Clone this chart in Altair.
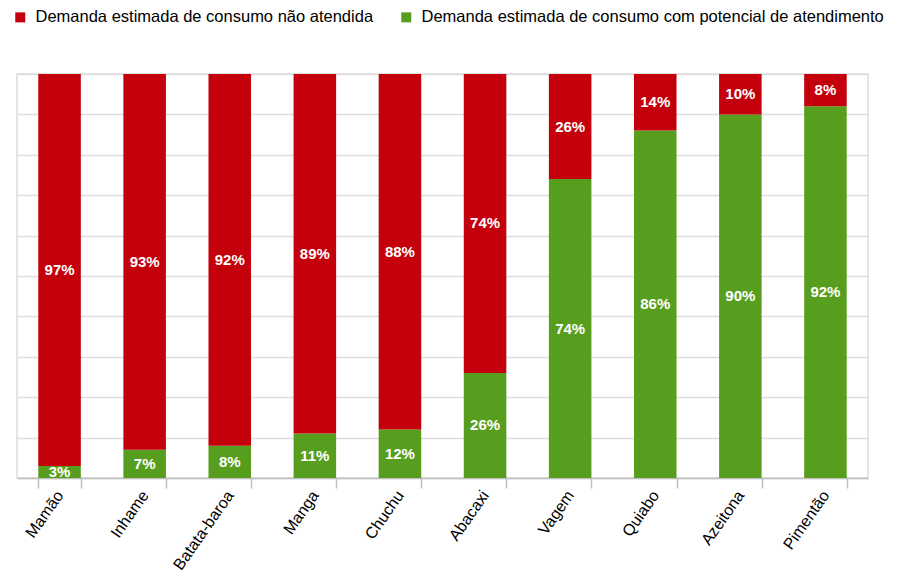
import altair as alt
import pandas as pd

categories = ["Mamão", "Inhame", "Batata-baroa", "Manga", "Chuchu",
              "Abacaxi", "Vagem", "Quiabo", "Azeitona", "Pimentão"]
nao_atendida = [97, 93, 92, 89, 88, 74, 26, 14, 10, 8]
com_potencial = [3, 7, 8, 11, 12, 26, 74, 86, 90, 92]

s_nao = "Demanda estimada de consumo não atendida"
s_com = "Demanda estimada de consumo com potencial de atendimento"
series = [s_nao, s_com]
colors = ["#C3000B", "#579E1E"]

rows = []
for c, a, b in zip(categories, nao_atendida, com_potencial):
    rows.append({"category": c, "series": s_com, "value": b / 100, "ord": 0})
    rows.append({"category": c, "series": s_nao, "value": a / 100, "ord": 1})
df = pd.DataFrame(rows)

FONT = "Liberation Sans"

base = alt.Chart(df).transform_stack(
    stack="value", groupby=["category"], as_=["y0", "y1"],
    sort=[alt.SortField("ord", order="ascending")]
).transform_calculate(
    mid="(datum.y0 + datum.y1) / 2",
    label="format(datum.value, '.0%')"
)

xenc = alt.X("category:N", sort=categories, title=None,
             scale=alt.Scale(paddingInner=0.5, paddingOuter=0.25),
             axis=alt.Axis(labelAngle=-55, labelFont=FONT, labelFontSize=16,
                           labelColor="#000000", labelPadding=4,
                           tickBand="extent", tickSize=10, tickColor="#BFBFBF",
                           tickWidth=1.5, domainColor="#BFBFBF", domainWidth=1.5,
                           labelAlign="right", labelBaseline="middle"))

bars = base.mark_bar().encode(
    x=xenc,
    y=alt.Y("y0:Q", scale=alt.Scale(domain=[0, 1]), title=None,
            axis=alt.Axis(values=[i / 10 for i in range(11)], labels=False,
                          ticks=False, domain=False, grid=True,
                          gridColor="#DDDDDD", gridWidth=1.5)),
    y2="y1:Q",
    color=alt.Color("series:N", scale=alt.Scale(domain=series, range=colors),
                    title=None,
                    legend=alt.Legend(orient="none", legendX=-5, legendY=-65,
                                      direction="horizontal", symbolType="square",
                                      symbolSize=100, symbolStrokeWidth=0,
                                      labelFont=FONT, labelFontSize=16.5,
                                      labelColor="#000000", labelOffset=7,
                                      columnPadding=24, padding=0,
                                      labelLimit=600)),
)

texts = base.mark_text(color="white", font=FONT, fontSize=15,
                       fontWeight="bold").encode(
    x=alt.X("category:N", sort=categories),
    y=alt.Y("mid:Q"),
    text="label:N",
)

chart = alt.layer(bars, texts).properties(
    width=851, height=404,
    autosize=alt.AutoSizeParams(type="none"),
    padding={"left": 9, "top": 66, "right": 41, "bottom": 97},
).configure_view(stroke="#DDDDDD", strokeWidth=1.5)

chart.save("out.html", embed_options={"renderer": "svg", "actions": False})
